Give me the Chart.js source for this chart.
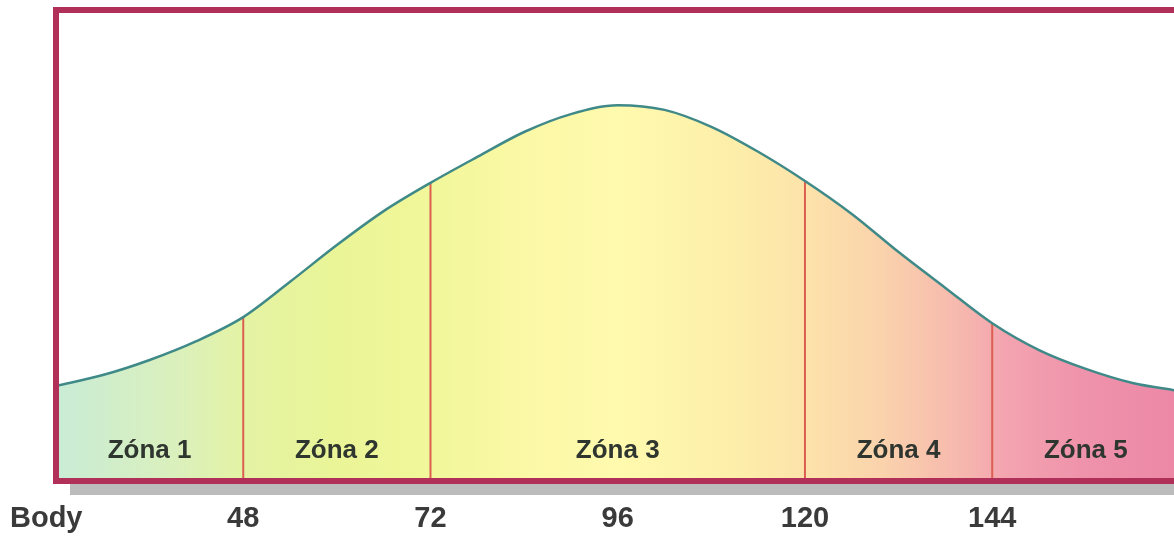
<!DOCTYPE html>
<html><head><meta charset="utf-8">
<script src="https://cdn.jsdelivr.net/npm/chart.js@4/dist/chart.umd.min.js"></script>
<style>html,body{margin:0;padding:0;background:#fff;}#wrap{width:1174px;height:536px;}</style>
</head><body><div id="wrap"><canvas id="c" width="1174" height="536"></canvas></div>
<script>
// ---- data ----
const xValues = [24,30,36,42,48,54,60,66,72,78,84,90,96,102,108,114,120,126,132,138,144,150,156,162,168];
const curveValues = [20.2,22.5,25.7,29.7,34.8,42.3,50.1,57.3,63.3,68.8,74.1,77.9,79.8,78.8,75.2,69.9,63.7,56.7,48.6,41.0,33.5,27.8,23.8,20.8,19.1];
const tickValues = [48,72,96,120,144];
const zoneBoundaries = [48,72,120,144];
const zoneLabels = ['Zóna 1','Zóna 2','Zóna 3','Zóna 4','Zóna 5'];
const zoneCenters = [36,60,96,132,156];
const axisLabel = 'Body';

const curvePoints = xValues.map((x,i)=>({x:x,y:curveValues[i]}));
const boundaryPoints = [];
zoneBoundaries.forEach(b=>{
  const v = curveValues[xValues.indexOf(b)];
  boundaryPoints.push({x:b,y:0},{x:b,y:v},{x:b,y:null});
});

function fillGradient(ctx){
  const chart = ctx.chart;
  const area = chart.chartArea;
  if(!area) return '#fdf9a8';
  const xs = chart.scales.x;
  const g = chart.ctx.createLinearGradient(xs.getPixelForValue(24),0,xs.getPixelForValue(168),0);
  const st = (v,c)=>g.addColorStop((v-24)/144,c);
  st(24,'#c9ecd6'); st(40,'#dbf0bb'); st(48,'#e4f3a4'); st(60,'#eaf597');
  st(72,'#f1f79a'); st(84,'#fbf8a6'); st(96,'#fffaae'); st(110,'#fdefaa');
  st(120,'#fde3aa'); st(130,'#fad2ac'); st(140,'#f6b8ae'); st(146,'#f3a3b0');
  st(156,'#ef92ab'); st(168,'#ec88a6');
  return g;
}

const framePlugin = {
  id:'frame',
  afterDraw(chart){
    const {ctx, chartArea:a, scales} = chart;
    ctx.save();
    // shadow under the frame
    ctx.fillStyle = '#bcbcbc';
    ctx.fillRect(a.left+14, a.bottom+3, chart.width, 11);
    // frame
    ctx.strokeStyle = '#b0305a';
    ctx.lineWidth = 6;
    ctx.beginPath();
    ctx.moveTo(chart.width+10, a.top);
    ctx.lineTo(a.left, a.top);
    ctx.lineTo(a.left, a.bottom);
    ctx.lineTo(chart.width+10, a.bottom);
    ctx.stroke();
    // zone labels
    ctx.font = 'bold 26px "Liberation Sans", Arial, sans-serif';
    ctx.fillStyle = '#2f352f';
    ctx.textAlign = 'center';
    ctx.textBaseline = 'middle';
    zoneLabels.forEach((t,i)=>{
      ctx.fillText(t, scales.x.getPixelForValue(zoneCenters[i]), a.bottom-30);
    });
    // axis label at the tick row
    const tickY = scales.x.top + 8 + 15;
    ctx.font = 'bold 29px "Liberation Sans", Arial, sans-serif';
    ctx.fillStyle = '#3a3a3a';
    ctx.textAlign = 'left';
    ctx.textBaseline = 'top';
    ctx.fillText(axisLabel, 10, tickY);
    ctx.restore();
  }
};

new Chart(document.getElementById('c'),{
  type:'line',
  data:{datasets:[
    {data:curvePoints, borderColor:'#3f8a88', borderWidth:2.5, cubicInterpolationMode:'monotone', pointRadius:0,
     fill:'origin', backgroundColor:fillGradient},
    {data:boundaryPoints, borderColor:'#dc5f52', borderWidth:2, pointRadius:0, spanGaps:false, fill:false, tension:0}
  ]},
  options:{
    responsive:false, animation:false, devicePixelRatio:1,
    layout:{padding:{left:56,top:10,right:0,bottom:0}},
    plugins:{legend:{display:false}, tooltip:{enabled:false}, filler:{drawTime:'beforeDatasetsDraw'}},
    scales:{
      x:{type:'linear', min:24, max:167.3,
         afterBuildTicks:(s)=>{s.ticks = tickValues.map(v=>({value:v}));},
         afterFit:(s)=>{s.height = 55;},
         grid:{display:false}, border:{display:false},
         ticks:{padding:15, maxRotation:0, autoSkip:false, color:'#3a3a3a',
                font:{family:'"Liberation Sans", Arial, sans-serif', size:29, weight:'bold', lineHeight:1}}},
      y:{min:0, max:100, display:false}
    }
  },
  plugins:[framePlugin]
});
</script></body></html>
